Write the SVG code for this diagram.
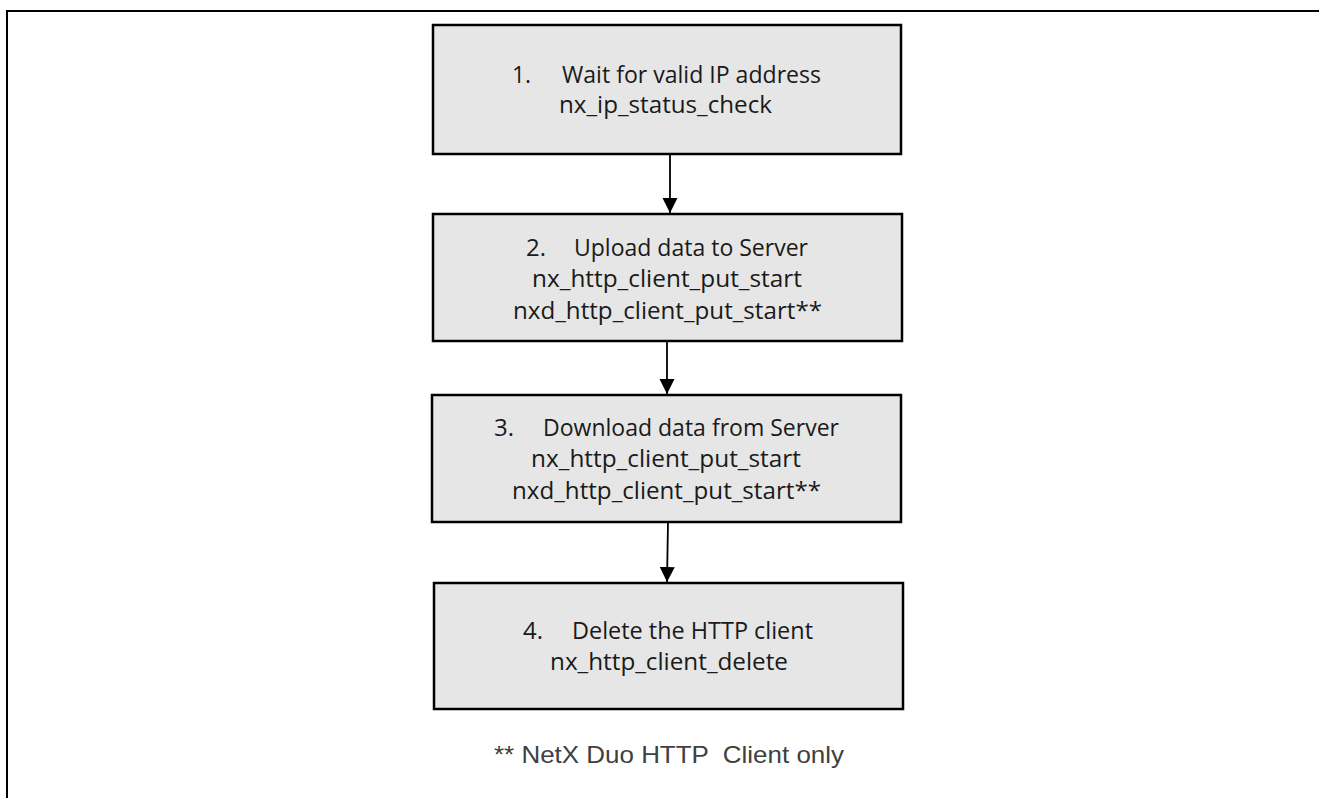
<svg xmlns="http://www.w3.org/2000/svg" width="1319" height="798" viewBox="0 0 1319 798">
<style>
.box{fill:#e6e6e6;stroke:#000;stroke-width:2.5}
.t{font-family:"Open Sans","Liberation Sans",sans-serif;font-size:24px;fill:#1a1a1a}
.foot{font-family:"Liberation Sans",Arial,sans-serif;font-size:24px;fill:#404040}
.edge{stroke:#000;stroke-width:1.8;fill:none}
</style>
<defs>
<marker id="arr" markerUnits="userSpaceOnUse" markerWidth="16" markerHeight="16" viewBox="0 0 16 16" refX="15" refY="8" orient="auto">
<path d="M0,0.5 L15,8 L0,15.5 Z" fill="#000"/>
</marker>
</defs>
<rect width="1319" height="798" fill="#fff"/>
<g id="frame">
<line x1="6" y1="11" x2="1319" y2="11" stroke="#000" stroke-width="2"/>
<line x1="7" y1="10" x2="7" y2="798" stroke="#000" stroke-width="2"/>
</g>
<g id="connectors">
<line class="edge" x1="670" y1="154" x2="670" y2="213" marker-end="url(#arr)"/>
<line class="edge" x1="667" y1="341" x2="667" y2="394" marker-end="url(#arr)"/>
<line class="edge" x1="668" y1="522" x2="667" y2="582" marker-end="url(#arr)"/>
</g>
<g id="node1">
<rect class="box" x="433" y="25" width="468" height="129"/>
<text class="t" x="512" y="83" textLength="19" lengthAdjust="spacingAndGlyphs">1.</text>
<text class="t" x="562" y="83" textLength="259" lengthAdjust="spacingAndGlyphs">Wait for valid IP address</text>
<text class="t" x="559" y="113" textLength="213" lengthAdjust="spacingAndGlyphs">nx_ip_status_check</text>
</g>
<g id="node2">
<rect class="box" x="433" y="214" width="469" height="127"/>
<text class="t" x="526" y="256" textLength="20" lengthAdjust="spacingAndGlyphs">2.</text>
<text class="t" x="574" y="256" textLength="234" lengthAdjust="spacingAndGlyphs">Upload data to Server</text>
<text class="t" x="532" y="287" textLength="270" lengthAdjust="spacingAndGlyphs">nx_http_client_put_start</text>
<text class="t" x="513" y="319" textLength="309" lengthAdjust="spacingAndGlyphs">nxd_http_client_put_start**</text>
</g>
<g id="node3">
<rect class="box" x="432" y="395" width="469" height="127"/>
<text class="t" x="494" y="436" textLength="20" lengthAdjust="spacingAndGlyphs">3.</text>
<text class="t" x="543" y="436" textLength="296" lengthAdjust="spacingAndGlyphs">Download data from Server</text>
<text class="t" x="531" y="467" textLength="270" lengthAdjust="spacingAndGlyphs">nx_http_client_put_start</text>
<text class="t" x="512" y="499" textLength="309" lengthAdjust="spacingAndGlyphs">nxd_http_client_put_start**</text>
</g>
<g id="node4">
<rect class="box" x="434" y="583" width="469" height="126"/>
<text class="t" x="523" y="639" textLength="20" lengthAdjust="spacingAndGlyphs">4.</text>
<text class="t" x="572" y="639" textLength="241" lengthAdjust="spacingAndGlyphs">Delete the HTTP client</text>
<text class="t" x="550" y="670" textLength="238" lengthAdjust="spacingAndGlyphs">nx_http_client_delete</text>
</g>
<g id="footnote">
<text class="foot" x="494" y="763" textLength="350" lengthAdjust="spacingAndGlyphs" xml:space="preserve">** NetX Duo HTTP  Client only</text>
</g>
</svg>
